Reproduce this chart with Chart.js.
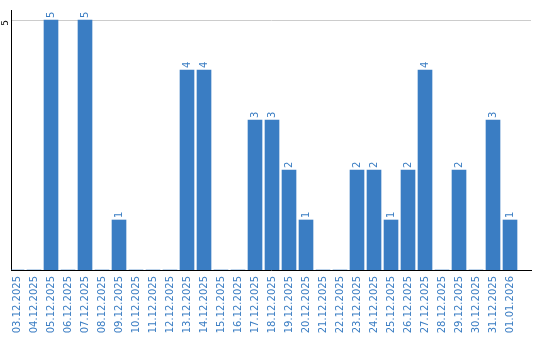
<!DOCTYPE html>
<html><head><meta charset="utf-8">
<script src="https://cdn.jsdelivr.net/npm/chart.js@4/dist/chart.umd.min.js"></script>
<style>html,body{margin:0;padding:0;background:#fff}#wrap{width:540px;height:340px}</style>
</head><body><div id="wrap"><canvas id="c"></canvas></div>
<script>
const categories = ["03.12.2025","04.12.2025","05.12.2025","06.12.2025","07.12.2025","08.12.2025","09.12.2025","10.12.2025","11.12.2025","12.12.2025","13.12.2025","14.12.2025","15.12.2025","16.12.2025","17.12.2025","18.12.2025","19.12.2025","20.12.2025","21.12.2025","22.12.2025","23.12.2025","24.12.2025","25.12.2025","26.12.2025","27.12.2025","28.12.2025","29.12.2025","30.12.2025","31.12.2025","01.01.2026"];
const values = [0,0,5,0,5,0,1,0,0,0,4,4,0,0,3,3,2,1,0,0,2,2,1,2,4,0,2,0,3,1];
const yTicks = [5];
const BLUE = '#3a7dc3';

const labelPlugin = {
  id: 'barLabels',
  afterDatasetsDraw(chart) {
    const ctx = chart.ctx;
    const meta = chart.getDatasetMeta(0);
    ctx.save();
    ctx.fillStyle = BLUE;
    ctx.font = '10px "DejaVu Sans"';
    meta.data.forEach((bar, i) => {
      const v = values[i];
      if (!v) return;
      ctx.save();
      ctx.translate(bar.x, bar.y - 2);
      ctx.rotate(-Math.PI / 2);
      ctx.textAlign = 'left';
      ctx.textBaseline = 'middle';
      ctx.fillText(String(v), 0, 0);
      ctx.restore();
    });
    ctx.restore();
  }
};

new Chart(document.getElementById('c'), {
  type: 'bar',
  data: {
    datasets: [{
      data: values.map((v, i) => ({x: i, y: v})),
      backgroundColor: BLUE,
      barThickness: 14
    }]
  },
  options: {
    responsive: true,
    maintainAspectRatio: false,
    animation: false,
    layout: { padding: { top: 10, right: 9, left: 0, bottom: 0 } },
    plugins: { legend: { display: false }, tooltip: { enabled: false } },
    scales: {
      x: {
        type: 'linear',
        offset: false,
        min: -0.353,
        max: 30.235,
        grid: { display: false, drawTicks: false, offset: false },
        border: { display: true, color: '#000', width: 1 },
        afterFit: s => { s.height = 70; s.paddingLeft = 0; s.paddingRight = 0; },
        ticks: {
          stepSize: 1,
          includeBounds: false,
          autoSkip: false,
          minRotation: 90,
          maxRotation: 90,
          padding: 6,
          color: BLUE,
          font: { family: 'DejaVu Sans', size: 10 },
          callback: v => (Number.isInteger(v) && categories[v]) ? categories[v] : ''
        }
      },
      y: {
        min: 0,
        max: 5.2,
        afterFit: s => { s.width = 11; s.paddingTop = 0; s.paddingBottom = 0; },
        afterBuildTicks: s => { s.ticks = yTicks.map(v => ({value: v})); },
        grid: { drawTicks: false, color: '#cccccc', lineWidth: 1 },
        border: { display: true, color: '#000', width: 1 },
        ticks: {
          minRotation: 90,
          maxRotation: 90,
          padding: 5,
          color: '#000',
          font: { family: 'DejaVu Sans', size: 9 }
        }
      }
    }
  },
  plugins: [labelPlugin]
});
</script>
</body></html>
